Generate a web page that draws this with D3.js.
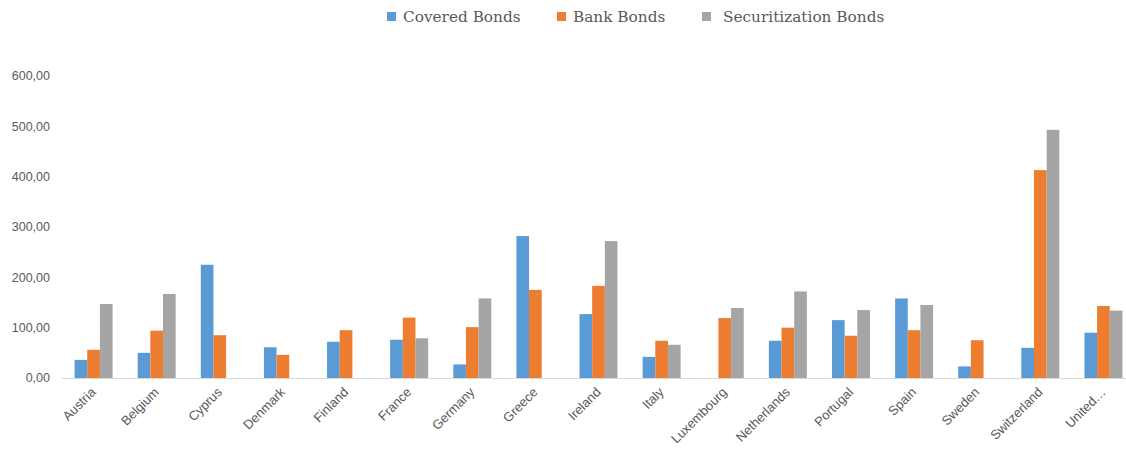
<!DOCTYPE html>
<html>
<head>
<meta charset="utf-8">
<script src="https://cdn.jsdelivr.net/npm/d3@7"></script>
<style>
  body { margin: 0; background: #fff; }
  svg { display: block; }
</style>
</head>
<body>
<svg width="1126" height="450"></svg>
<script>
// data
var countries = ["Austria", "Belgium", "Cyprus", "Denmark", "Finland", "France", "Germany", "Greece",
  "Ireland", "Italy", "Luxembourg", "Netherlands", "Portugal", "Spain", "Sweden", "Switzerland", "United…"];
var seriesNames = ["Covered Bonds", "Bank Bonds", "Securitization Bonds"];
var covered = [36, 50, 225, 61, 72, 76, 27, 282, 127, 42, 0, 74, 115, 158, 23, 60, 90];
var bank = [56, 94, 85, 46, 95, 120, 101, 175, 183, 74, 119, 100, 84, 95, 75, 413, 143];
var securitization = [147, 167, 0, 0, 0, 79, 158, 0, 272, 66, 139, 172, 135, 145, 0, 493, 134];
var yTicks = [0, 100, 200, 300, 400, 500, 600];
var colors = ["#5b9bd5", "#ed7d31", "#a5a5a5"];

var svg = d3.select("svg");
var width = 1126;

var x0 = d3.scaleBand()
  .domain(countries)
  .range([62, 1135])
  .paddingInner(0.398)
  .paddingOuter(0.199);

var x1 = d3.scaleBand()
  .domain(seriesNames)
  .range([0, x0.bandwidth()]);

var y = d3.scaleLinear()
  .domain([0, 600])
  .range([378, 76]);

var fmt = d3.formatLocale({decimal: ",", thousands: ".", grouping: [3], currency: ["", ""]}).format(".2f");

// y axis labels (no line, no gridlines)
svg.append("g")
  .selectAll("text")
  .data(yTicks)
  .enter()
  .append("text")
  .attr("x", 50)
  .attr("y", function(d) { return y(d); })
  .attr("dy", "0.35em")
  .attr("text-anchor", "end")
  .attr("font-family", "'Liberation Sans', Arial, sans-serif")
  .attr("font-size", 12.5)
  .attr("fill", "#595959")
  .text(function(d) { return fmt(d); });

// bars
var values = [covered, bank, securitization];
var bars = [];
countries.forEach(function(c, i) {
  seriesNames.forEach(function(s, j) {
    bars.push({country: c, series: s, value: values[j][i], color: colors[j]});
  });
});

svg.append("g")
  .selectAll("rect")
  .data(bars.filter(function(d) { return d.value > 0; }))
  .enter()
  .append("rect")
  .attr("x", function(d) { return x0(d.country) + x1(d.series); })
  .attr("y", function(d) { return y(d.value); })
  .attr("width", x1.bandwidth())
  .attr("height", function(d) { return y(0) - y(d.value); })
  .attr("fill", function(d) { return d.color; });

// x axis line
svg.append("line")
  .attr("x1", 62)
  .attr("x2", width)
  .attr("y1", y(0) + 0.5)
  .attr("y2", y(0) + 0.5)
  .attr("stroke", "#d9d9d9")
  .attr("stroke-width", 1);

// x labels, rotated
svg.append("g")
  .selectAll("text")
  .data(countries)
  .enter()
  .append("text")
  .attr("transform", function(d) {
    var cx = x0(d) + x0.bandwidth() / 2 + 3;
    return "translate(" + cx + ",393) rotate(-45)";
  })
  .attr("text-anchor", "end")
  .attr("font-family", "'Liberation Sans', Arial, sans-serif")
  .attr("font-size", 13)
  .attr("fill", "#595959")
  .text(function(d) { return d; });

// legend
var legendX = [387, 557, 702];
var legend = svg.append("g")
  .selectAll("g")
  .data(seriesNames)
  .enter()
  .append("g")
  .attr("transform", function(d, i) { return "translate(" + legendX[i] + ",0)"; });

legend.append("rect")
  .attr("x", 0)
  .attr("y", 12)
  .attr("width", 9)
  .attr("height", 9)
  .attr("fill", function(d, i) { return colors[i]; });

legend.append("text")
  .attr("x", function(d, i) { return i == 2 ? 21 : 16; })
  .attr("y", 22)
  .attr("font-family", "'DejaVu Serif', 'Liberation Serif', serif")
  .attr("font-size", 15.3)
  .attr("fill", "#595959")
  .text(function(d) { return d; });
</script>
</body>
</html>
